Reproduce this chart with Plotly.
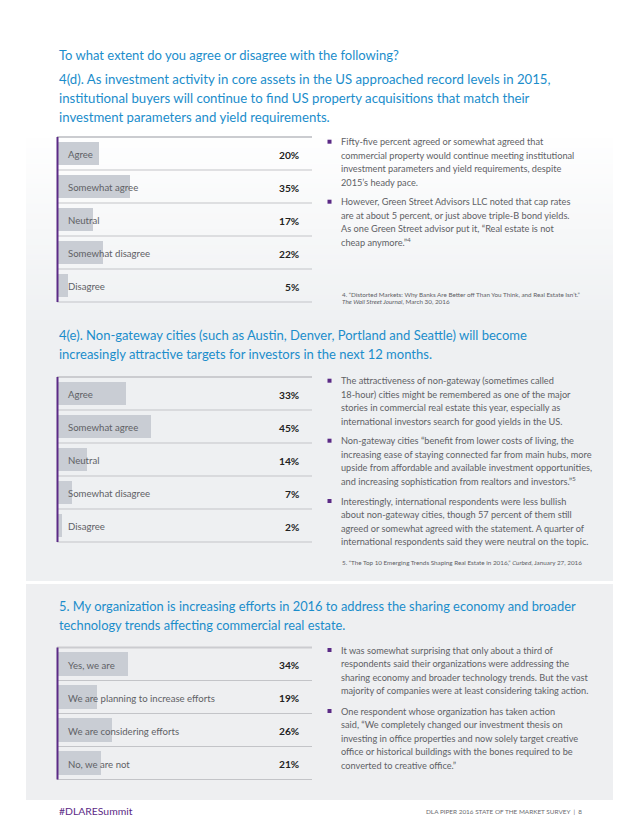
import plotly.graph_objects as go

W, H = 640, 828

def px(x):
    return x / W

def py(y):
    return 1 - y / H

# ---------------- data ----------------
q4d_categories = ["Agree", "Somewhat agree", "Neutral", "Somewhat disagree", "Disagree"]
q4d_values = [20, 35, 17, 22, 5]

q4e_categories = ["Agree", "Somewhat agree", "Neutral", "Somewhat disagree", "Disagree"]
q4e_values = [33, 45, 14, 7, 2]

q5_categories = ["Yes, we are", "We are planning to increase efforts",
                 "We are considering efforts", "No, we are not"]
q5_values = [34, 19, 26, 21]

intro_title = "To what extent do you agree or disagree with the following?"
q4d_title = ["4(d). As investment activity in core assets in the US approached record levels in 2015,",
             "institutional buyers will continue to find US property acquisitions that match their",
             "investment parameters and yield requirements."]
q4e_title = ["4(e). Non-gateway cities (such as Austin, Denver, Portland and Seattle) will become",
             "increasingly attractive targets for investors in the next 12 months."]
q5_title = ["5. My organization is increasing efforts in 2016 to address the sharing economy and broader",
            "technology trends affecting commercial real estate."]

q4d_bullets = [
    ["Fifty-five percent agreed or somewhat agreed that",
     "commercial property would continue meeting institutional",
     "investment parameters and yield requirements, despite",
     "2015’s heady pace."],
    ["However, Green Street Advisors LLC noted that cap rates",
     "are at about 5 percent, or just above triple-B bond yields.",
     "As one Green Street advisor put it, “Real estate is not",
     "cheap anymore.”<sup>4</sup>"],
]
q4d_notes = ["4. “Distorted Markets: Why Banks Are Better off Than You Think, and Real Estate Isn’t.”",
             "<i>The Wall Street Journal</i>, March 30, 2016"]

q4e_bullets = [
    ["The attractiveness of non-gateway (sometimes called",
     "18-hour) cities might be remembered as one of the major",
     "stories in commercial real estate this year, especially as",
     "international investors search for good yields in the US."],
    ["Non-gateway cities “benefit from lower costs of living, the",
     "increasing ease of staying connected far from main hubs, more",
     "upside from affordable and available investment opportunities,",
     "and increasing sophistication from realtors and investors.”<sup>5</sup>"],
    ["Interestingly, international respondents were less bullish",
     "about non-gateway cities, though 57 percent of them still",
     "agreed or somewhat agreed with the statement. A quarter of",
     "international respondents said they were neutral on the topic."],
]
q4e_notes = ["5. “The Top 10 Emerging Trends Shaping Real Estate in 2016,” <i>Curbed</i>, January 27, 2016"]

q5_bullets = [
    ["It was somewhat surprising that only about a third of",
     "respondents said their organizations were addressing the",
     "sharing economy and broader technology trends. But the vast",
     "majority of companies were at least considering taking action."],
    ["One respondent whose organization has taken action",
     "said, “We completely changed our investment thesis on",
     "investing in office properties and now solely target creative",
     "office or historical buildings with the bones required to be",
     "converted to creative office.”"],
]

footer_left = "#DLARESummit"
footer_right = "DLA PIPER 2016 STATE OF THE MARKET SURVEY  |  8"

# ---------------- style ----------------
FONT = "Lato"
BLUE = "#1b8dcb"
PURPLE = "#5b2a86"
TEXT = "#606165"
BAR = "#c9cdd4"
LINE = "#c3c4c8"
PANEL = (238, 240, 242)

fig = go.Figure()
shapes = []
ann = []

# background panels
g0, g1 = 128, 330
N = 40
for i in range(N):
    t = i / (N - 1)
    c = tuple(int(round(255 + (p - 255) * t)) for p in PANEL)
    y0 = g0 + (g1 - g0) * i / N
    y1 = g0 + (g1 - g0) * (i + 1) / N + 0.5
    shapes.append(dict(type="rect", xref="paper", yref="paper", x0=px(26), x1=px(613),
                       y0=py(y1), y1=py(y0), line=dict(width=0),
                       fillcolor="rgb(%d,%d,%d)" % c, layer="below"))
shapes.append(dict(type="rect", xref="paper", yref="paper", x0=px(26), x1=px(613),
                   y0=py(581), y1=py(g1), line=dict(width=0),
                   fillcolor="rgb(%d,%d,%d)" % PANEL, layer="below"))
shapes.append(dict(type="rect", xref="paper", yref="paper", x0=px(26), x1=px(613),
                   y0=py(800), y1=py(584), line=dict(width=0),
                   fillcolor="rgb(238,239,241)", layer="below"))

# ---------------- bar charts ----------------
ROW = 33
SCALE = 2.06  # px per percent
X0, X1 = 58, 312
charts = [
    (q4d_categories, q4d_values, 137),
    (q4e_categories, q4e_values, 377),
    (q5_categories, q5_values, 647.5),
]
layout_axes = {}
for k, (cats, vals, top) in enumerate(charts):
    n = len(cats)
    bottom = top + n * ROW
    xa = "x" if k == 0 else "x%d" % (k + 1)
    ya = "y" if k == 0 else "y%d" % (k + 1)
    fig.add_trace(go.Bar(
        x=vals, y=cats, orientation="h", xaxis=xa, yaxis=ya,
        marker=dict(color=BAR, line=dict(width=0)), width=0.7,
        hoverinfo="skip", showlegend=False,
    ))
    layout_axes["xaxis" + ("" if k == 0 else str(k + 1))] = dict(
        domain=[px(X0), px(X1)], range=[0, (X1 - X0) / SCALE], visible=False,
        anchor=ya, fixedrange=True)
    layout_axes["yaxis" + ("" if k == 0 else str(k + 1))] = dict(
        domain=[py(bottom), py(top)], range=[n - 0.5, -0.5], visible=False,
        type="category", anchor=xa, fixedrange=True)
    for j in range(n + 1):
        yy = top + j * ROW
        shapes.append(dict(type="line", xref="paper", yref="paper", x0=px(57), x1=px(312),
                           y0=py(yy), y1=py(yy),
                           line=dict(color="#cbccd0" if j == 0 else LINE, width=2 if j == 0 else 1)))
    shapes.append(dict(type="line", xref="paper", yref="paper", x0=px(57.5), x1=px(57.5),
                       y0=py(bottom), y1=py(top), line=dict(color=PURPLE, width=2)))
    for c, v in zip(cats, vals):
        ann.append(dict(x=px(66), xref="paper", y=c, yref=ya, text=c, showarrow=False,
                        xanchor="left", yanchor="middle", yshift=-1,
                        font=dict(family=FONT, size=9.6, color=TEXT)))
        ann.append(dict(x=px(301), xref="paper", y=c, yref=ya, text="<b>%d%%</b>" % v,
                        showarrow=False, xanchor="right", yanchor="middle", yshift=-1,
                        font=dict(family=FONT, size=10.2, color="#222222")))

# ---------------- text ----------------
def text_line(x, y, s, size, color, anchor="left"):
    ann.append(dict(x=px(x), y=py(y), xref="paper", yref="paper", text=s, showarrow=False,
                    xanchor=anchor, yanchor="middle", font=dict(family=FONT, size=size, color=color)))

TS = 13.0
text_line(57, 55, intro_title, TS, BLUE)
for i, s in enumerate(q4d_title):
    text_line(57, 79 + 19 * i, s, 13.2, BLUE)
for i, s in enumerate(q4e_title):
    text_line(57, 335 + 19 * i, s, TS, BLUE)
for i, s in enumerate(q5_title):
    text_line(57, 606 + 19 * i, s, 12.85, BLUE)

BS = 9.2
LS = 13.5
def bullets(blocks, starts):
    for lines, y0 in zip(blocks, starts):
        shapes.append(dict(type="rect", xref="paper", yref="paper", x0=px(327.5), x1=px(331.5),
                           y0=py(y0 + 2), y1=py(y0 - 2), line=dict(width=0), fillcolor=PURPLE))
        for i, s in enumerate(lines):
            text_line(339, y0 + LS * i, s, BS, TEXT)

bullets(q4d_bullets, [141.7, 201.7])
bullets(q4e_bullets, [380.7, 440.7, 501])
bullets(q5_bullets, [650, 711])

for i, s in enumerate(q4d_notes):
    text_line(340, 294 + 7.4 * i, s, 6.3, TEXT)
for i, s in enumerate(q4e_notes):
    text_line(340, 562.7, s, 6.3, TEXT)

text_line(57, 811, footer_left, 10.4, PURPLE)
text_line(584, 811, footer_right, 6.4, "#6b6c70", anchor="right")

fig.update_layout(
    width=W, height=H, margin=dict(l=0, r=0, t=0, b=0),
    paper_bgcolor="white", plot_bgcolor="rgba(0,0,0,0)",
    shapes=shapes, annotations=ann, showlegend=False, bargap=0,
    **layout_axes,
)
fig.write_html("out.html", config={"displayModeBar": False, "staticPlot": True},
               post_script="document.body.style.margin='0';")
